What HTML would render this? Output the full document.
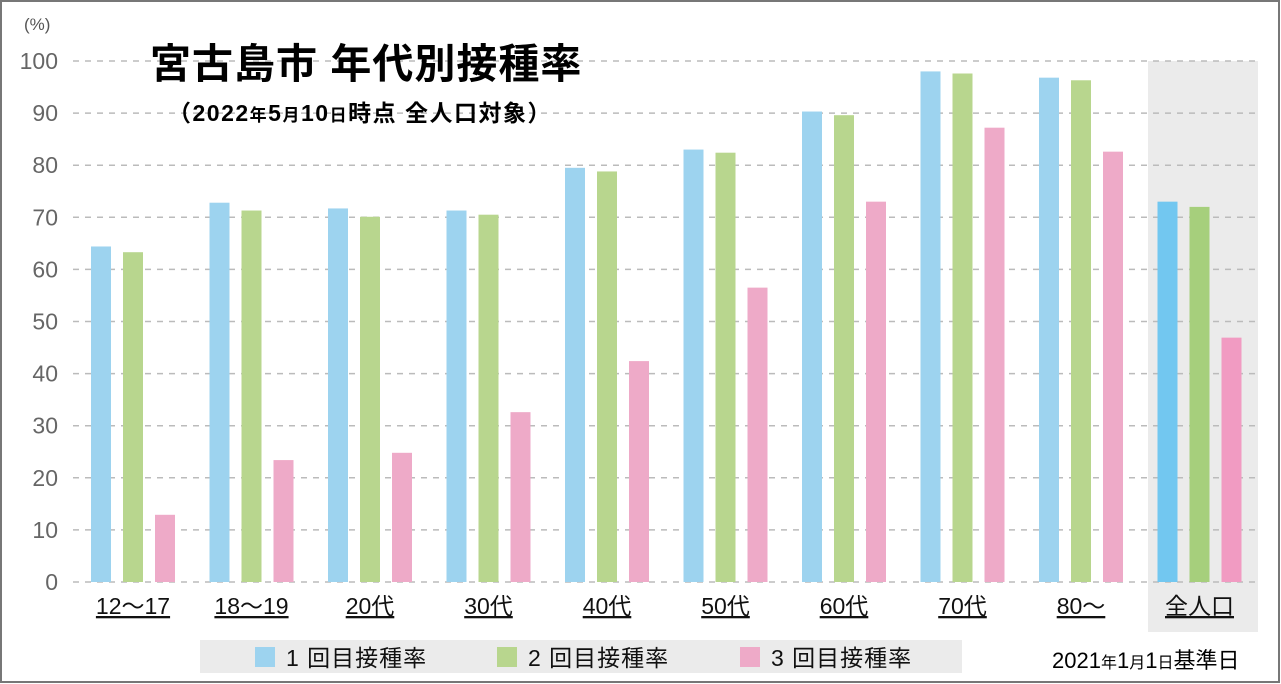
<!DOCTYPE html>
<html><head><meta charset="utf-8">
<style>
body{margin:0;background:#fff;}
#wrap{position:relative;width:1281px;height:684px;overflow:hidden;font-family:"Liberation Sans","Noto Sans CJK JP",sans-serif;}
</style></head>
<body>
<div id="wrap">
<svg id="chart" width="1281" height="684" xmlns="http://www.w3.org/2000/svg"></svg>
</div>
<script>
const categories = ["12～17","18～19","20代","30代","40代","50代","60代","70代","80～","全人口"];
const dose1 = [64.4,72.8,71.7,71.3,79.5,83.0,90.3,98.0,96.8,73.0];
const dose2 = [63.3,71.3,70.1,70.5,78.8,82.4,89.6,97.6,96.3,72.0];
const dose3 = [12.9,23.4,24.8,32.6,42.4,56.5,73.0,87.2,82.6,46.9];
const yTicks = [0,10,20,30,40,50,60,70,80,90,100];
const seriesNames = ["1回目接種率","2回目接種率","3回目接種率"];

const NS="http://www.w3.org/2000/svg";
const svg=document.getElementById('chart');
const y0=582, yTop=61;
const yScale=v=>y0-(v/100)*(y0-yTop);
const xCenter=i=>133+118.5*i;
function mk(tag,attrs,parent){const e=document.createElementNS(NS,tag);for(const k in attrs)e.setAttribute(k,attrs[k]);(parent||svg).appendChild(e);return e;}

let b=mk('rect',{x:1,y:1,width:1278,height:681,fill:'#fff',stroke:'#777',"stroke-width":2});


let hb=mk('rect',{x:1148,y:yTop,width:110,height:571,fill:'#ebebeb'});



yTicks.forEach(t=>{
  const y=yScale(t);
  const l=mk('line',{x1:73,x2:1258,y1:y,y2:y,stroke:'#bbb',"stroke-width":1.5,"stroke-dasharray":"6 6"});
  
  
  const tx=mk('text',{x:58,y:y+8,"text-anchor":"end","font-size":23,fill:'#666'});
  tx.textContent=t;
  
  
});
let unit=mk('text',{x:24,y:30,"font-size":17,fill:'#555'});unit.textContent='(%)';



const normal=['#9dd3ef','#b8d68e','#eeaac8'];
const strong=['#72c7f0','#a6cf7c','#f19bc2'];
const series=[dose1,dose2,dose3];
categories.forEach((c,i)=>{
  series.forEach((s,j)=>{
    const x=xCenter(i)+(j-1)*32-10;
    const y=yScale(s[i]);
    const r=mk('rect',{x:x,y:y,width:20,height:y0-y,fill:(i===9?strong:normal)[j]});
    
    
  });
  const t=mk('text',{x:xCenter(i),y:614,"text-anchor":"middle","font-size":23,fill:'#111',"text-decoration":"underline"});
  t.textContent=c;
  
  
});

let ti=mk('text',{x:150,y:78,"font-size":41,"font-weight":"bold",fill:'#000',"letter-spacing":"1"});
ti.textContent='宮古島市 年代別接種率';


let st=mk('text',{x:168,y:121,"font-size":23,"font-weight":"bold",fill:'#000',"letter-spacing":"1.5"});
st.innerHTML='（2022<tspan font-size="17">年</tspan>5<tspan font-size="17">月</tspan>10<tspan font-size="17">日</tspan>時点 全人口対象）';



let lb=mk('rect',{x:200,y:640,width:762,height:33,fill:'#ebebeb'});


const lx=[255,497,740];
seriesNames.forEach((n,j)=>{
  const sq=mk('rect',{x:lx[j],y:647,width:20,height:20,fill:normal[j]});
  
  
  const t=mk('text',{x:lx[j]+31,y:666,"font-size":23,fill:'#111',"letter-spacing":"1"});
  t.textContent=n.replace(/^(\d)/,'$1 ');
  
  
});
let ft=mk('text',{x:1052,y:668,"font-size":22,fill:'#000'});
ft.innerHTML='2021<tspan font-size="16">年</tspan>1<tspan font-size="16">月</tspan>1<tspan font-size="16">日</tspan>基準日';


</script>
</body></html>
